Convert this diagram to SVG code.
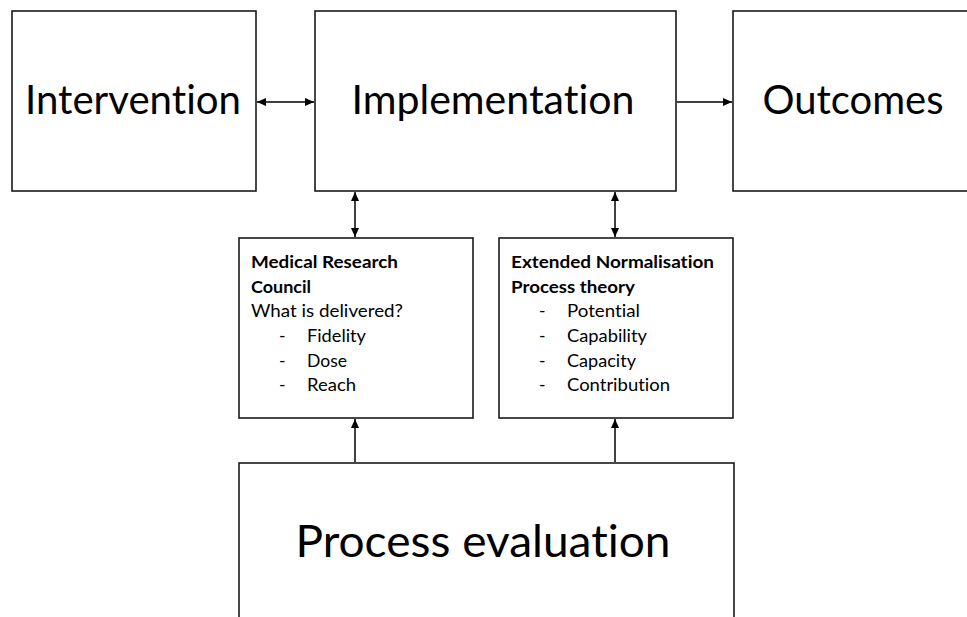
<svg xmlns="http://www.w3.org/2000/svg" width="967" height="617" viewBox="0 0 967 617">
<style>
  text { font-variant-ligatures: none; font-feature-settings: "liga" 0, "clig" 0; }
  .box { fill: #ffffff; stroke: #1a1a1a; stroke-width: 1.6; }
  .big { font-family: Lato, "Open Sans", "Liberation Sans", sans-serif; font-size: 40px; fill: #000000; }
  .pe { font-family: Lato, "Open Sans", "Liberation Sans", sans-serif; font-size: 44px; fill: #000000; }
  .sm { font-family: Lato, "Open Sans", "Liberation Sans", sans-serif; font-size: 17.5px; fill: #000000; }
  .b { font-weight: bold; }
  .conn { stroke: #000000; stroke-width: 1.5; fill: none; }
</style>
<defs>
  <marker id="ah" markerUnits="userSpaceOnUse" markerWidth="10" markerHeight="9" refX="9" refY="4" orient="auto-start-reverse">
    <path d="M0,0 L9,4 L0,8 z" fill="#000000"/>
  </marker>
</defs>
<rect width="967" height="617" fill="#ffffff"/>

<g id="intervention">
  <rect class="box" x="12" y="11" width="244" height="180"/>
  <text class="big" x="133" y="114" text-anchor="middle" textLength="216" lengthAdjust="spacingAndGlyphs">Intervention</text>
</g>
<g id="implementation">
  <rect class="box" x="315" y="11" width="361" height="180"/>
  <text class="big" x="493" y="114" text-anchor="middle" textLength="283" lengthAdjust="spacingAndGlyphs">Implementation</text>
</g>
<g id="outcomes">
  <rect class="box" x="733" y="11" width="244" height="180"/>
  <text class="big" x="853" y="114" text-anchor="middle" textLength="181" lengthAdjust="spacingAndGlyphs">Outcomes</text>
</g>
<g id="mrc">
  <rect class="box" x="239" y="238" width="234" height="180"/>
  <text class="sm b" x="251" y="268" textLength="147" lengthAdjust="spacingAndGlyphs">Medical Research</text>
  <text class="sm b" x="251" y="293" textLength="60" lengthAdjust="spacingAndGlyphs">Council</text>
  <text class="sm" x="251" y="317" textLength="152" lengthAdjust="spacingAndGlyphs">What is delivered?</text>
  <text class="sm" x="279" y="342">-</text>
  <text class="sm" x="307" y="342" textLength="59" lengthAdjust="spacingAndGlyphs">Fidelity</text>
  <text class="sm" x="279" y="367">-</text>
  <text class="sm" x="307" y="367" textLength="40" lengthAdjust="spacingAndGlyphs">Dose</text>
  <text class="sm" x="279" y="391">-</text>
  <text class="sm" x="307" y="391" textLength="49" lengthAdjust="spacingAndGlyphs">Reach</text>
</g>
<g id="enpt">
  <rect class="box" x="499" y="238" width="234" height="180"/>
  <text class="sm b" x="511" y="268" textLength="203" lengthAdjust="spacingAndGlyphs">Extended Normalisation</text>
  <text class="sm b" x="511" y="293" textLength="124" lengthAdjust="spacingAndGlyphs">Process theory</text>
  <text class="sm" x="539" y="317">-</text>
  <text class="sm" x="567" y="317" textLength="73" lengthAdjust="spacingAndGlyphs">Potential</text>
  <text class="sm" x="539" y="342">-</text>
  <text class="sm" x="567" y="342" textLength="80" lengthAdjust="spacingAndGlyphs">Capability</text>
  <text class="sm" x="539" y="367">-</text>
  <text class="sm" x="567" y="367" textLength="69" lengthAdjust="spacingAndGlyphs">Capacity</text>
  <text class="sm" x="539" y="391">-</text>
  <text class="sm" x="567" y="391" textLength="103" lengthAdjust="spacingAndGlyphs">Contribution</text>
</g>
<g id="process-evaluation">
  <rect class="box" x="239" y="463" width="495" height="180"/>
  <text class="pe" x="483" y="557" text-anchor="middle" textLength="375" lengthAdjust="spacingAndGlyphs">Process evaluation</text>
</g>

<g id="connectors">
  <line class="conn" x1="257" y1="102" x2="314" y2="102" marker-start="url(#ah)" marker-end="url(#ah)"/>
  <line class="conn" x1="677" y1="102" x2="732" y2="102" marker-end="url(#ah)"/>
  <line class="conn" x1="355" y1="192" x2="355" y2="237" marker-start="url(#ah)" marker-end="url(#ah)"/>
  <line class="conn" x1="615" y1="192" x2="615" y2="237" marker-start="url(#ah)" marker-end="url(#ah)"/>
  <line class="conn" x1="355" y1="462" x2="355" y2="419" marker-end="url(#ah)"/>
  <line class="conn" x1="615" y1="462" x2="615" y2="419" marker-end="url(#ah)"/>
</g>
</svg>
